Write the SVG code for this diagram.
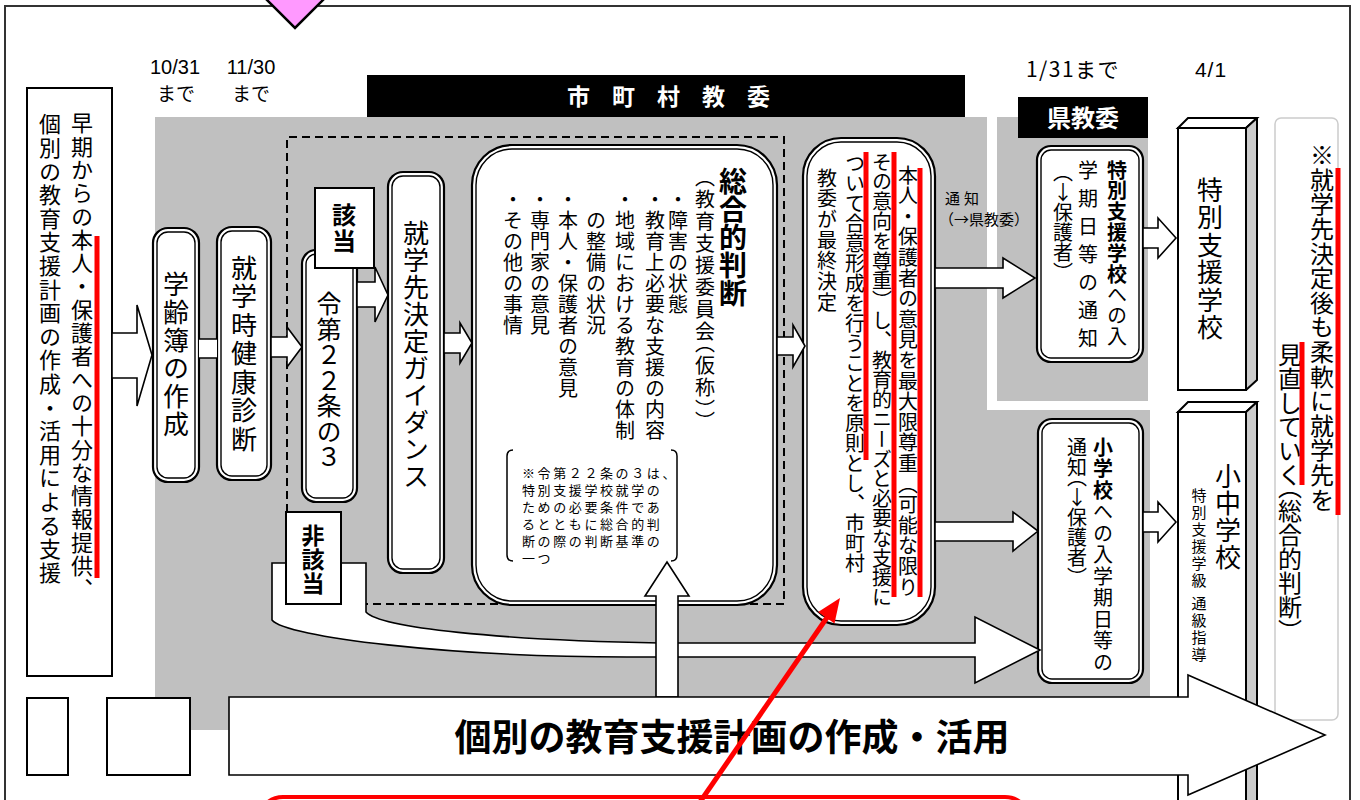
<svg xmlns="http://www.w3.org/2000/svg" width="1360" height="800" viewBox="0 0 1360 800">
<style>
text{font-family:"Noto Sans CJK JP","Noto Sans CJK SC",sans-serif}
.lat{font-family:"Liberation Sans",Arial,sans-serif}
.v{writing-mode:vertical-rl}
.vu{writing-mode:vertical-rl;text-orientation:upright}
.ph{font-feature-settings:"vhal" 1}
.o{fill:#fff;stroke:#000;stroke-width:2.2}
.i{fill:none;stroke:#000;stroke-width:1.4}
.ar{fill:#fff;stroke:#000;stroke-width:1.6;stroke-linejoin:miter}
.box{fill:#fff;stroke:#000;stroke-width:2}
.red{stroke:#f00;stroke-width:5;fill:none}
.g{fill:#c0c0c0}
.b{font-weight:bold}
.side{fill:#ccc;stroke:#000;stroke-width:2;stroke-linejoin:round}
</style>

<!-- frame -->
<rect x="5" y="6" width="1345" height="830" fill="#fff" stroke="#333" stroke-width="2"/>
<polygon points="245,-22 345,-22 295,28" fill="#ff99ff" stroke="#000" stroke-width="2.5"/>

<!-- gray zones -->
<rect class="g" x="155" y="117" width="832" height="613"/>
<rect class="g" x="987" y="410" width="163" height="320"/>
<rect class="g" x="997" y="117" width="151" height="284"/>

<!-- headers -->
<g id="header-city">
<rect x="367" y="75" width="598" height="42" fill="#000"/>
<text x="567" y="105" fill="#fff" font-size="23" font-weight="bold" letter-spacing="22">市町村教委</text>
</g>
<g id="header-pref">
<rect x="1018" y="97" width="130" height="41" fill="#000"/>
<text x="1083" y="127" text-anchor="middle" fill="#fff" font-size="24" font-weight="bold">県教委</text>
</g>

<!-- dates -->
<g id="dates" text-anchor="middle">
<text class="lat" x="175" y="74" font-size="20">10/31</text>
<text x="176" y="101" font-size="19">まで</text>
<text class="lat" x="251" y="74" font-size="20">11/30</text>
<text x="251" y="101" font-size="19">まで</text>
<text x="1073" y="77" font-size="21" letter-spacing="1.5">1/31まで</text>
<text class="lat" x="1211" y="77" font-size="21" letter-spacing="1">4/1</text>
</g>

<!-- dashed frame -->
<g id="dashed-frame">
<path d="M287,512 V137 H784 V604 H362" fill="none" stroke="#000" stroke-width="2" stroke-dasharray="8,5"/>
</g>

<!-- left info box -->
<g id="node-early-support">
<rect class="box" x="27" y="88" width="85" height="588"/>
<text class="v" x="82" y="112" font-size="22" letter-spacing="1.3">早期からの本人・保護者への十分な情報提供、</text>
<text class="v" x="50" y="113" font-size="22" letter-spacing="1.6">個別の教育支援計画の作成・活用による支援</text>
</g>
<g id="blank-boxes">
<rect class="box" x="27" y="698" width="41" height="77"/>
<rect class="box" x="107" y="698" width="83" height="77"/>
</g>

<g id="node-register">
<rect class="o" x="153" y="228" width="46" height="254" rx="15"/>
<rect class="i" x="157" y="232" width="38" height="246" rx="11"/>
<text class="v" x="176" y="271" font-size="26" letter-spacing="2">学齢簿の作成</text>
</g>
<g id="node-health">
<rect class="o" x="217" y="227" width="54" height="253" rx="15"/>
<rect class="i" x="221" y="231" width="46" height="245" rx="11"/>
<text class="v" x="244" y="255" font-size="26" letter-spacing="2.5">就学時健康診断</text>
</g>
<g id="node-article">
<rect class="o" x="302" y="250" width="55" height="252" rx="14"/>
<rect class="i" x="306" y="254" width="47" height="244" rx="10"/>
<text class="v" x="329" y="291" font-size="25" letter-spacing="0.6">令第２２条の３</text>
</g>
<g id="node-guidance">
<rect class="o" x="388" y="172" width="56" height="401" rx="15"/>
<rect class="i" x="392" y="176" width="48" height="393" rx="11"/>
<text class="v" x="416" y="220" font-size="26" letter-spacing="1">就学先決定ガイダンス</text>
</g>
<g id="node-judgement">
<rect class="o" x="472" y="145" width="305" height="460" rx="40"/>
<rect class="i" x="476" y="149" width="297" height="452" rx="36"/>
<text class="v b" x="733" y="167" font-size="28">総合的判断</text>
<text class="v ph" x="705" y="177" font-size="20" letter-spacing="2">（教育支援委員会（仮称））</text>
<g font-size="20" letter-spacing="1">
<text class="v" x="678" y="189">・障害の状態</text>
<text class="v" x="655" y="189">・教育上必要な支援の内容</text>
<text class="v" x="625" y="189">・地域における教育の体制</text>
<text class="v" x="596" y="210">の整備の状況</text>
<text class="v" x="568" y="189">・本人・保護者の意見</text>
<text class="v" x="540" y="189">・専門家の意見</text>
<text class="v" x="513" y="189">・その他の事情</text>
</g>
<path d="M513,450 Q507,450 507,456 V555 Q507,561 513,561 M671,450 Q677,450 677,456 V555 Q677,561 671,561" fill="none" stroke="#000" stroke-width="1.5"/>
<g font-size="13" letter-spacing="2.6">
<text x="522" y="478">※令第２２条の３は、</text>
<text x="522" y="495">特別支援学校就学の</text>
<text x="522" y="512">ための必要条件であ</text>
<text x="522" y="529">るとともに総合的判</text>
<text x="522" y="546">断の際の判断基準の</text>
<text x="522" y="563">一つ</text>
</g>
</g>
<g id="node-consent">
<rect class="o" x="803" y="138" width="132" height="487" rx="38"/>
<rect class="i" x="807" y="142" width="124" height="479" rx="34"/>
<g font-size="20">
<text class="v" x="908" y="165" letter-spacing="0.6">本人・保護者の意見を最大限尊重（可能な限り</text>
<text class="v" x="882" y="152" letter-spacing="-0.2">その意向を尊重）し、教育的ニーズと必要な支援に</text>
<text class="v" x="855" y="153">ついて合意形成を行うことを原則とし、市町村</text>
<text class="v" x="827" y="168" letter-spacing="0.7">教委が最終決定</text>
</g>
</g>
<g id="node-notice-special">
<rect class="o" x="1037" y="146" width="106" height="216" rx="14"/>
<rect class="i" x="1041" y="150" width="98" height="208" rx="10"/>
<text class="v" x="1117" y="160" font-size="20" letter-spacing="0.8"><tspan font-weight="bold">特別支援学校</tspan>への入</text>
<text class="v" x="1088" y="160" font-size="20" letter-spacing="8">学期日等の通知</text>
<text class="vu ph" x="1063" y="172" font-size="20">（↓保護者）</text>
</g>
<g id="node-notice-school">
<rect class="o" x="1038" y="419" width="105" height="264" rx="14"/>
<rect class="i" x="1042" y="423" width="97" height="256" rx="10"/>
<text class="v" x="1103" y="437" font-size="20" letter-spacing="1.5"><tspan font-weight="bold">小学校</tspan>への入学期日等の</text>
<text class="vu ph" x="1077" y="437" font-size="20">通知（↓保護者）</text>
</g>
<g id="node-special-school">
<polygon class="box" points="1178,128 1188,118 1257,118 1246,128"/>
<polygon class="side" points="1246,128 1257,118 1257,380 1246,390"/>
<rect class="box" x="1178" y="128" width="68" height="262"/>
<text class="v" x="1210" y="177" font-size="26" letter-spacing="1.5">特別支援学校</text>
</g>
<g id="node-school">
<polygon class="box" points="1178,412 1188,402 1257,402 1246,412"/>
<polygon class="side" points="1246,412 1257,402 1257,820 1246,820"/>
<rect class="box" x="1178" y="412" width="68" height="400"/>
<text class="v" x="1228" y="463" font-size="26" letter-spacing="1">小中学校</text>
<text class="v" x="1199" y="488" font-size="15" letter-spacing="2">特別支援学級 通級指導</text>
</g>
<g id="node-note">
<rect x="1275" y="118" width="63" height="602" rx="6" fill="#fff" stroke="#ccc" stroke-width="1.5"/>
<text class="v" x="1322" y="143" font-size="24" letter-spacing="0.6">※就学先決定後も柔軟に就学先を</text>
<text class="v ph" x="1290" y="343" font-size="24">見直していく（総合的判断）</text>
</g>

<!-- connectors -->
<g id="connectors">
<polygon class="ar" points="112,333 137,333 137,305 152,355 137,406 137,378 112,378"/>
<rect x="199" y="339" width="18" height="19" fill="#fff"/>
<path d="M199,339H217M199,358H217" stroke="#000" stroke-width="1.6"/>
<polygon class="ar" points="271,337 287,337 287,327 302,347 287,367 287,357 271,357"/>
<polygon class="ar" points="357,282 375,282 375,267 388,295 375,322 375,307 357,307"/>
<polygon class="ar" points="444,333 460,333 460,323 472,343 460,363 460,353 444,353"/>
<polygon class="ar" points="777,337 793,337 793,325 805,346 793,367 793,355 777,355"/>
<polygon class="ar" points="935,268 1003,268 1003,258 1035,278 1003,298 1003,288 935,288"/>
<text x="964" y="204" text-anchor="middle" font-size="15" letter-spacing="4">通知</text>
<text x="984" y="225" text-anchor="middle" font-size="15">（→県教委）</text>
<polygon class="ar" points="935,522 1013,522 1013,512 1038,531 1013,551 1013,541 935,541"/>
<polygon class="ar" points="1143,228 1158,228 1158,218 1176,238 1158,258 1158,248 1143,248"/>
<polygon class="ar" points="1143,512 1158,512 1158,502 1176,522 1158,542 1158,532 1143,532"/>
<path class="ar" d="M272,563 H366 V612 C380,628 500,640 660,643 H975 V617 L1040,650 L975,683 V657 H627 C450,657 285,637 272,620 Z"/>
<polygon class="ar" points="656,697 656,596 645,596 667,562 689,596 678,596 678,697"/>
</g>

<g id="label-applicable">
<rect class="box" x="315" y="188" width="59" height="80"/>
<text class="v b" x="344" y="203" font-size="24" letter-spacing="2">該当</text>
</g>
<g id="label-not-applicable">
<rect class="box" x="286" y="512" width="55" height="92"/>
<text class="v b" x="313" y="524" font-size="23" letter-spacing="1">非該当</text>
</g>

<g id="plan-arrow">
<polygon class="ar" points="229,697 1188,697 1188,675 1325,735 1188,795 1188,775 229,775"/>
<text x="732" y="751" text-anchor="middle" font-size="37" font-weight="bold">個別の教育支援計画の作成・活用</text>
</g>

<!-- red annotations -->
<g id="annotations">
<line class="red" x1="97" y1="236" x2="97" y2="578"/>
<line class="red" x1="866" y1="152" x2="866" y2="460"/>
<line class="red" x1="894" y1="152" x2="894" y2="597"/>
<line class="red" x1="920" y1="168" x2="920" y2="597"/>
<line class="red" x1="1338" y1="168" x2="1338" y2="515"/>
<line class="red" x1="1302" y1="342" x2="1302" y2="485"/>
<rect x="258" y="797" width="772" height="60" rx="25" fill="none" stroke="#f00" stroke-width="4"/>
<line class="red" x1="700" y1="802" x2="828" y2="616"/>
<polygon points="840,598 834.5,623.4 818.1,612" fill="#f00"/>
</g>
</svg>
